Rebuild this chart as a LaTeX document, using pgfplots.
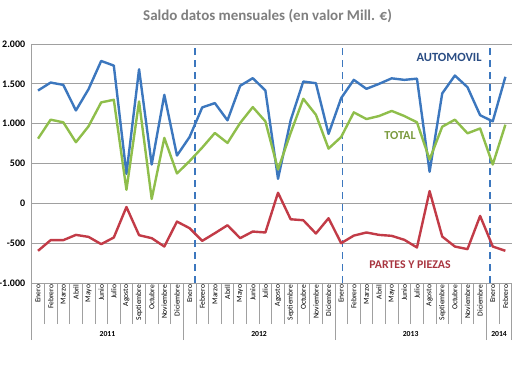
\documentclass[border=0pt]{standalone}
\usepackage{pgfplots}
\pgfplotsset{compat=1.18}
\usepackage{fontspec}
\setmainfont{Carlito}
\definecolor{cblue}{HTML}{3C77BE}
\definecolor{cgreen}{HTML}{8FBE4B}
\definecolor{cred}{HTML}{C23B47}
\definecolor{tblue}{HTML}{2A4D84}
\definecolor{tgreen}{HTML}{7A9A3E}
\definecolor{tred}{HTML}{A8343F}
\definecolor{gridc}{HTML}{A0A0A0}
\definecolor{titc}{HTML}{7F7F7F}
\begin{document}
\begin{tikzpicture}
\path[use as bounding box] (-31.7pt,-82pt) rectangle (495.3pt,283pt);
\begin{axis}[
  scale only axis, width=480pt, height=239pt,
  xmin=-0.5, xmax=37.5, ymin=-1000, ymax=2000,
  axis lines=left, axis line style={-, draw=gridc, line width=0.9pt},
  ytick={-1000,-500,...,2000},
  ymajorgrids, grid style={draw=gridc, line width=0.9pt},
  xtick={0,...,37},
  xticklabels={Enero,Febrero,Marzo,Abril,Mayo,Junio,Julio,Agosto,Septiembre,Octubre,Noviembre,Diciembre,
               Enero,Febrero,Marzo,Abril,Mayo,Junio,Julio,Agosto,Septiembre,Octubre,Noviembre,Diciembre,
               Enero,Febrero,Marzo,Abril,Mayo,Junio,Julio,Agosto,Septiembre,Octubre,Noviembre,Diciembre,
               Enero,Febrero},
  minor xtick={-0.5,0.5,...,37.5},
  tick align=outside,
  major tick length=0pt,
  minor tick length=41pt,
  minor tick style={draw=gridc, line width=0.7pt},
  extra x ticks={-0.5,11.5,23.5,35.5,37.5},
  extra x tick labels={},
  extra x tick style={major tick length=57pt, tick style={draw=gridc, line width=0.7pt}},
  xticklabel style={rotate=90, anchor=east, font=\fontsize{7.6}{8}\selectfont, inner sep=1.5pt},
  yticklabel style={font=\bfseries\fontsize{10}{12}\selectfont, xshift=-3pt},
  /pgf/number format/.cd, assume math mode=true, 1000 sep={.},
  /pgfplots/.cd,
  clip=false,
]
\addplot[cblue, line width=1.8pt, dash pattern=on 7pt off 5pt] coordinates {(12.4,-1000) (12.4,2000)};
\addplot[cblue, line width=1.8pt, dash pattern=on 7pt off 5pt] coordinates {(24.1,-1000) (24.1,2000)};
\addplot[cblue, line width=1.8pt, dash pattern=on 7pt off 5pt] coordinates {(35.8,-1000) (35.8,2000)};
% AUTOMOVIL
\addplot[cblue, line width=2.4pt, line join=round] coordinates {
(0,1416)(1,1516)(2,1487)(3,1166)(4,1433)(5,1787)(6,1729)(7,370)(8,1683)(9,487)(10,1362)(11,600)
(12,833)(13,1204)(14,1258)(15,1042)(16,1475)(17,1571)(18,1417)(19,308)(20,1042)(21,1529)(22,1508)(23,871)
(24,1321)(25,1550)(26,1437)(27,1500)(28,1569)(29,1550)(30,1565)(31,396)(32,1380)(33,1604)(34,1458)(35,1106)
(36,1029)(37,1588)};
% TOTAL
\addplot[cgreen, line width=2.4pt, line join=round] coordinates {
(0,812)(1,1050)(2,1017)(3,767)(4,967)(5,1267)(6,1300)(7,170)(8,1279)(9,55)(10,821)(11,375)
(12,530)(13,700)(14,883)(15,758)(16,1008)(17,1208)(18,1029)(19,425)(20,883)(21,1312)(22,1112)(23,687)
(24,833)(25,1142)(26,1058)(27,1096)(28,1160)(29,1096)(30,1017)(31,550)(32,962)(33,1050)(34,879)(35,940)
(36,487)(37,987)};
% PARTES Y PIEZAS
\addplot[cred, line width=2.4pt, line join=round] coordinates {
(0,-596)(1,-462)(2,-462)(3,-396)(4,-421)(5,-512)(6,-429)(7,-46)(8,-400)(9,-437)(10,-542)(11,-229)
(12,-312)(13,-471)(14,-375)(15,-275)(16,-437)(17,-354)(18,-366)(19,133)(20,-200)(21,-212)(22,-379)(23,-187)
(24,-500)(25,-405)(26,-366)(27,-396)(28,-408)(29,-458)(30,-554)(31,154)(32,-417)(33,-542)(34,-575)(35,-158)
(36,-542)(37,-596)};
\node[font=\bfseries\fontsize{7.7}{9}\selectfont, yshift=-51pt] at (axis cs:5.5,-1000) {2011};
\node[font=\bfseries\fontsize{7.7}{9}\selectfont, yshift=-51pt] at (axis cs:17.5,-1000) {2012};
\node[font=\bfseries\fontsize{7.7}{9}\selectfont, yshift=-51pt] at (axis cs:29.5,-1000) {2013};
\node[font=\bfseries\fontsize{7.7}{9}\selectfont, yshift=-51pt] at (axis cs:36.5,-1000) {2014};
\node[text=tblue, font=\bfseries\fontsize{12.5}{14}\selectfont] at (axis cs:32.54,1837) {AUTOMOVIL};
\node[text=tgreen, font=\bfseries\fontsize{12.2}{14}\selectfont] at (axis cs:28.66,850) {TOTAL};
\node[text=tred, font=\bfseries\fontsize{11.8}{14}\selectfont] at (axis cs:29.45,-775) {PARTES Y PIEZAS};
\node[text=titc, font=\bfseries\fontsize{15}{18}\selectfont, yshift=27.5pt] at (rel axis cs:0.4913,1) {Saldo datos mensuales (en valor Mill. €)};
\end{axis}
\end{tikzpicture}
\end{document}
